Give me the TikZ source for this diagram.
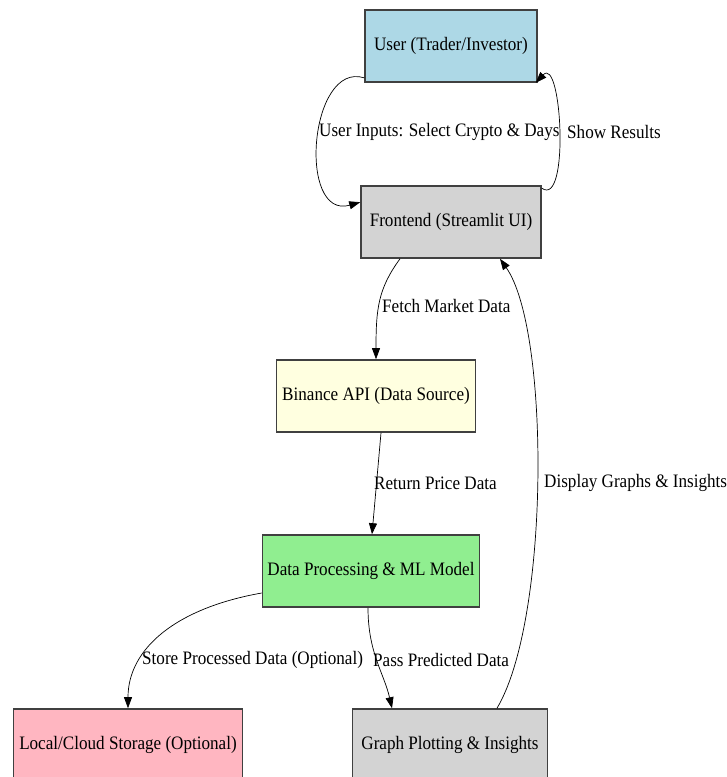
\documentclass[tikz,border=0pt]{standalone}
\usepackage{fontspec}
\setmainfont{Liberation Serif}[FakeStretch=0.9]
\usetikzlibrary{arrows.meta}
\definecolor{cuser}{HTML}{ADD8E6}
\definecolor{cgray}{HTML}{D3D3D3}
\definecolor{cyel}{HTML}{FFFFE0}
\definecolor{cgreen}{HTML}{90EE90}
\definecolor{cpink}{HTML}{FFB6C1}
\tikzset{
  box/.style={draw=black!75, line width=1.6pt, rectangle, inner sep=0pt, minimum height=72pt, align=center, font=\fontsize{19}{22}\selectfont},
  lbl/.style={inner sep=0pt, anchor=west, font=\fontsize{19}{22}\selectfont},
  conn/.style={line width=0.7pt, -{Triangle[length=11pt,width=8pt]}}
}
\begin{document}
\begin{tikzpicture}[x=1pt,y=-1pt]
\useasboundingbox (0,0) rectangle (727,777);
\clip (0,0) rectangle (727,777);
\node[box, fill=cuser, minimum width=172pt] (user) at (451,46) {User (Trader/Investor)};
\node[box, fill=cgray, minimum width=180pt] (front) at (451,222) {Frontend (Streamlit UI)};
\node[box, fill=cyel, minimum width=199pt] (bin) at (376,396) {Binance API (Data Source)};
\node[box, fill=cgreen, minimum width=217pt] (proc) at (371,571) {Data Processing \& ML Model};
\node[box, fill=cpink, minimum width=229pt] (store) at (128,745) {Local/Cloud Storage (Optional)};
\node[box, fill=cgray, minimum width=195pt] (graph) at (450,745) {Graph Plotting \& Insights};

\draw[conn] ([yshift=5pt]user.south west) .. controls +(-55,-17) and +(-63,18) .. ([yshift=-17pt]front.north west);
\node[lbl] (l1) at (319,132) {User Inputs: Select Crypto \& Days};

\draw[conn] ([yshift=-3pt]front.north east) .. controls +(28,20) and +(26,-28) .. ([xshift=-2pt]user.south east);
\node[lbl] (l2) at (567,132) {Show Results};

\draw[conn] ([xshift=-51pt]front.south) .. controls +(-22,30) and +(0,-50) .. (bin.north);
\node[lbl] (l3) at (382,306) {Fetch Market Data};

\draw[conn] ([xshift=47pt]graph.north) .. controls +(53,-89) and +(50,71) .. ([xshift=49pt]front.south);
\node[lbl] (l4) at (544,483) {Display Graphs \& Insights};

\draw[conn] ([xshift=5pt]bin.south) -- ([xshift=1pt]proc.north);
\node[lbl] (l5) at (374,483) {Return Price Data};

\draw[conn] ([yshift=-22pt]proc.west) .. controls +(-85,15) and +(0,-60) .. (store.north);
\node[lbl] (l6) at (142,660) {Store Processed Data (Optional)};

\draw[conn] ([xshift=-3pt]proc.south) .. controls +(0,45) and +(-8,-35) .. ([xshift=-58pt]graph.north);
\node[lbl] (l7) at (373,660) {Pass Predicted Data};
\end{tikzpicture}
\end{document}
